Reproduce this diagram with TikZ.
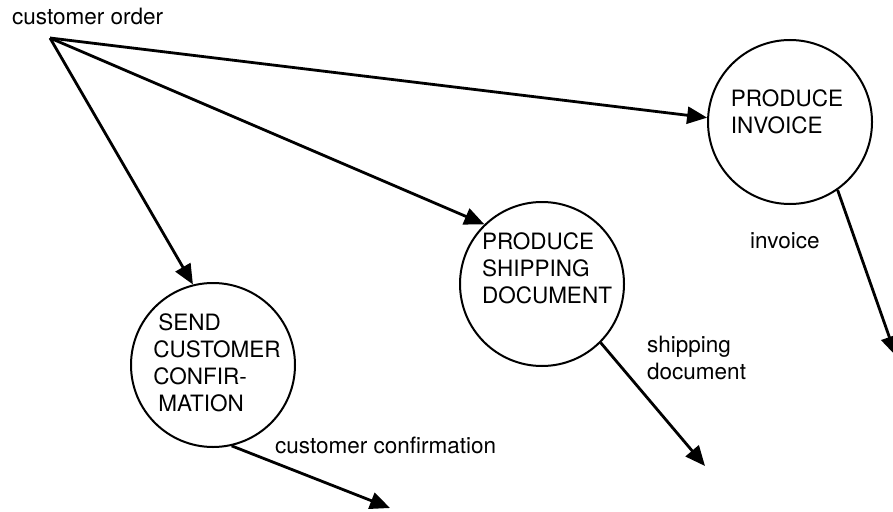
\documentclass[tikz,border=0pt]{standalone}
\usepackage{fontspec}
\setmainfont{TeX Gyre Heros}
\usetikzlibrary{arrows.meta}

\begin{document}
\begin{tikzpicture}[x=1pt, y=-1pt,
    font=\fontsize{22.5}{27}\selectfont,
    process/.style={circle, draw, line width=2pt, minimum size=164pt, inner sep=0pt},
    proctext/.style={align=left, inner sep=0pt},
    flow/.style={line width=2.8pt, -{Triangle[length=20pt, width=17pt]}},
    flowtext/.style={inner sep=0pt, anchor=base west}]
  \useasboundingbox (0,0) rectangle (893,511);
  % the three processes
  \node[process] (send) at (213,365) {};
  \node[process] (ship) at (542,284) {};
  \node[process] (inv) at (790,122) {};
  \node[proctext] (send-txt) at (217,363) {\hspace*{5pt}SEND\\CUSTOMER\\CONFIR-\\\hspace*{5pt}MATION};
  \node[proctext] (ship-txt) at (547,268) {PRODUCE\\SHIPPING\\DOCUMENT};
  \node[proctext] (inv-txt) at (787,112) {PRODUCE\\INVOICE};
  % incoming data flow
  \node[flowtext] (order-txt) at (12,25) {customer order};
  \coordinate (order) at (50,38);
  \draw[flow] (order) -- (send.104);
  \draw[flow] (order) -- (ship.134);
  \draw[flow] (order) -- (inv.177);
  % outgoing data flows
  \coordinate (conf-end) at (390,508);
  \coordinate (ship-end) at (705,466);
  \coordinate (inv-end) at (896,356);
  \draw[flow] (send.-77) -- (conf-end);
  \draw[flow] (ship.-45) -- (ship-end);
  \draw[flow] (inv.-55) -- (inv-end);
  \node[flowtext] (conf-txt) at (275,453) {customer confirmation};
  \node[proctext, anchor=north west] (shipdoc-txt) at (647,336) {shipping\\document};
  \node[flowtext] (invoice-txt) at (750,248) {invoice};
\end{tikzpicture}
\end{document}
